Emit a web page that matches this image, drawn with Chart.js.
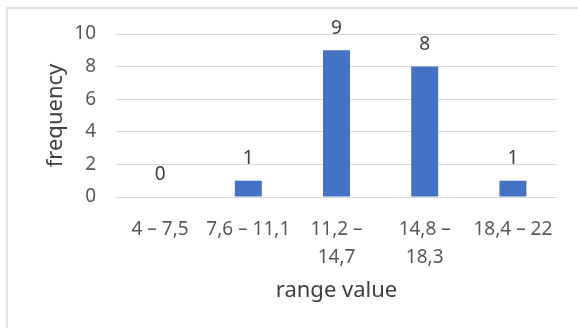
<!DOCTYPE html>
<html>
<head>
<meta charset="utf-8">
<style>
  html, body { margin: 0; padding: 0; background: #ffffff; }
  #wrap { position: relative; width: 578px; height: 328px; }
</style>
<script src="https://cdn.jsdelivr.net/npm/chart.js@4.4.1/dist/chart.umd.min.js"></script>
</head>
<body>
<div id="wrap"><canvas id="c" width="578" height="328"></canvas></div>
<script>
const categories = [["4 – 7,5"], ["7,6 – 11,1"], ["11,2 –", "14,7"], ["14,8 –", "18,3"], ["18,4 – 22"]];
const frequencies = [0, 1, 9, 8, 1];
const yTicks = [0, 2, 4, 6, 8, 10];

const FONT = "'Segoe UI', 'Noto Sans', 'Open Sans', sans-serif";

const frameBorder = {
  id: 'frameBorder',
  beforeDraw(chart) {
    const ctx = chart.ctx;
    ctx.save();
    ctx.fillStyle = '#ffffff';
    ctx.fillRect(0, 0, chart.width, chart.height);
    ctx.strokeStyle = '#e3e3e3';
    ctx.lineWidth = 2;
    ctx.beginPath();
    ctx.moveTo(7, chart.height);
    ctx.lineTo(7, 8);
    ctx.lineTo(chart.width, 8);
    ctx.stroke();
    ctx.restore();
  }
};

const valueLabels = {
  id: 'valueLabels',
  afterDatasetsDraw(chart) {
    const ctx = chart.ctx;
    const meta = chart.getDatasetMeta(0);
    const data = chart.data.datasets[0].data;
    ctx.save();
    ctx.font = '19px ' + FONT;
    ctx.fillStyle = '#404040';
    ctx.textAlign = 'center';
    ctx.textBaseline = 'middle';
    meta.data.forEach((bar, i) => {
      ctx.fillText(String(data[i]), bar.x, bar.y - 22);
    });
    ctx.restore();
  }
};

new Chart(document.getElementById('c'), {
  type: 'bar',
  data: {
    labels: categories,
    datasets: [{
      data: frequencies,
      backgroundColor: '#4472C4',
      borderWidth: 0,
      barPercentage: 0.306,
      categoryPercentage: 1.0
    }]
  },
  options: {
    responsive: false,
    animation: false,
    devicePixelRatio: 1,
    layout: { padding: { left: 0, right: 21, top: 34, bottom: 0 } },
    plugins: {
      legend: { display: false },
      tooltip: { enabled: false }
    },
    scales: {
      x: {
        grid: { display: false, drawTicks: false },
        border: { display: false },
        ticks: {
          color: '#595959',
          font: { family: FONT, size: 19, lineHeight: 1.5 },
          padding: 18,
          maxRotation: 0,
          autoSkip: false
        },
        title: {
          display: true,
          text: 'range value',
          color: '#404040',
          font: { family: FONT, size: 22, lineHeight: 1.2 },
          padding: { top: 0, bottom: 24 }
        },
        afterFit(scale) { scale.height = 131; }
      },
      y: {
        min: 0,
        max: 10,
        afterBuildTicks(scale) { scale.ticks = yTicks.map(v => ({ value: v })); },
        grid: { color: '#d9d9d9', lineWidth: 1, drawTicks: false },
        border: { display: false },
        ticks: {
          color: '#595959',
          font: { family: FONT, size: 19 },
          padding: 20
        },
        title: {
          display: true,
          text: 'frequency',
          color: '#404040',
          font: { family: FONT, size: 22, lineHeight: 1.2 },
          padding: { top: 43, bottom: 0 }
        },
        afterFit(scale) { scale.width = 116; }
      }
    }
  },
  plugins: [frameBorder, valueLabels]
});
</script>
</body>
</html>
